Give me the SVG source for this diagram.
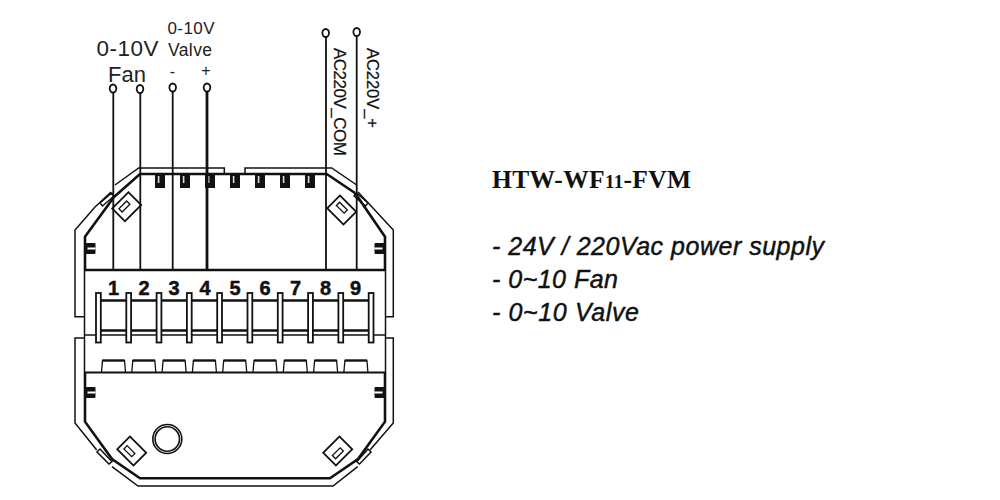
<svg xmlns="http://www.w3.org/2000/svg" xmlns:xlink="http://www.w3.org/1999/xlink" width="1000" height="500" viewBox="0 0 1000 500">
<style>
.l{fill:none;stroke:#111;stroke-width:1.5;stroke-linejoin:miter}
.m{fill:none;stroke:#111;stroke-width:2.2}
.t{fill:none;stroke:#111;stroke-width:2.6}
.w{fill:none;stroke:#111;stroke-width:1.8}
.ws{fill:none;stroke:#111;stroke-width:2.8}
.c{fill:#fff;stroke:#111;stroke-width:1.8}
.s{font-family:"Liberation Sans",Arial,sans-serif;fill:#222}
.n{font-family:"Liberation Sans",Arial,sans-serif;font-weight:700;font-size:20px;fill:#111;stroke:#111;stroke-width:.5;text-anchor:middle}
.i{font-family:"Liberation Sans",Arial,sans-serif;font-style:italic;font-size:25px;fill:#111;stroke:#111;stroke-width:.45}
</style>
<defs>
<g id="notch"><rect x="-5" y="0" width="10" height="13" fill="#111"/><rect x="-2.2" y="1" width="1.6" height="7" fill="#ddd"/></g>
<g id="term"><rect x="-2.3" y="293" width="4.8" height="49.5" fill="#fff" stroke="#111" stroke-width="1.8"/></g>
<g id="tab"><path d="M0 372 L1 360.5 H23 L24 372" fill="none" stroke="#111" stroke-width="1.3"/><path d="M1 360.5 H23" stroke="#111" stroke-width="2.2" fill="none"/></g>
<g id="clip"><rect x="-11.5" y="-9" width="23" height="18" fill="#fff" stroke="#111" stroke-width="1.8"/><rect x="-7" y="-0.5" width="11" height="4.5" fill="#fff" stroke="#111" stroke-width="1.3"/></g>
<g id="lug"><rect x="0" y="0" width="10.5" height="11" rx="1" fill="#111"/><rect x="2.5" y="4.5" width="8" height="2" fill="#fff"/></g>
</defs>
<rect width="1000" height="500" fill="#fff"/>
<g id="housing">
<path class="l" d="M224.3 174V168H138.7L115 185M245 174V168H331.7L356.7 185"/>
<path class="l" d="M100 203L111.7 193L114 196L102.5 206ZM368 203L356.5 193L354 196L365.5 206Z"/>
<path class="l" d="M111 192L95 207L75 230V316.7H84M358 192L372 207L393.3 230V316.7H385"/>
<path class="t" d="M114 197L140 174H326.7L355 193M114 197L85 236.7V270M355 193L385 236.7V270"/>
<path class="l" d="M84 338H75V423L96.7 450M385 338H393.3V423L370 450"/>
<path class="l" d="M100 449L112 461.7L109 464L97 452ZM368 449L356.7 461.7L359.5 464L371 452Z"/>
<path class="l" d="M112 466.7L138 486H333L357.7 466.7"/>
<path class="t" d="M85 372V421.7L112 459L140 478.3H330L358 459L385 421.7V372"/>
</g>
<g id="top-notches">
<use xlink:href="#notch" x="160" y="175"/><use xlink:href="#notch" x="185" y="175"/><use xlink:href="#notch" x="210" y="175"/><use xlink:href="#notch" x="235" y="175"/><use xlink:href="#notch" x="260" y="175"/><use xlink:href="#notch" x="285" y="175"/><use xlink:href="#notch" x="310" y="175"/>
</g>
<g id="lugs">
<use xlink:href="#lug" x="85" y="243"/><use xlink:href="#lug" x="374" y="243" transform="translate(759 0) scale(-1 1)"/>
<use xlink:href="#lug" x="85" y="387"/><use xlink:href="#lug" x="374" y="387" transform="translate(759 0) scale(-1 1)"/>
</g>
<g id="clips">
<use xlink:href="#clip" transform="translate(126.7 206.7) rotate(-45) scale(1 -1)"/>
<use xlink:href="#clip" transform="translate(341.7 210) rotate(45) scale(1 -1)"/>
<use xlink:href="#clip" transform="translate(131.7 451) rotate(45)"/>
<use xlink:href="#clip" transform="translate(337.7 451) rotate(-45)"/>
</g>
<g id="knob"><circle cx="167.3" cy="439" r="14.5" fill="#fff" stroke="#111" stroke-width="1.6"/><circle cx="167.3" cy="439" r="12.2" fill="#fff" stroke="#111" stroke-width="1.6"/></g>
<g id="terminal-block">
<path class="t" d="M85 270H385"/>
<path class="l" d="M84.5 270V372M385.5 270V372"/>
<path class="l" d="M85 335H385"/>
<path class="m" d="M85 372.5H385"/>
<path class="t" d="M100 300.5H370M100 330.5H370"/>
<use xlink:href="#term" x="98.3"/><use xlink:href="#term" x="128.6"/><use xlink:href="#term" x="158.9"/><use xlink:href="#term" x="189.2"/><use xlink:href="#term" x="219.5"/><use xlink:href="#term" x="249.8"/><use xlink:href="#term" x="280.1"/><use xlink:href="#term" x="310.4"/><use xlink:href="#term" x="340.7"/><use xlink:href="#term" x="371"/>
<use xlink:href="#tab" x="101.5"/><use xlink:href="#tab" x="131.8"/><use xlink:href="#tab" x="162.1"/><use xlink:href="#tab" x="192.4"/><use xlink:href="#tab" x="222.7"/><use xlink:href="#tab" x="253"/><use xlink:href="#tab" x="283.3"/><use xlink:href="#tab" x="313.6"/><use xlink:href="#tab" x="343.9"/>
<g class="n"><text x="113.5" y="294.5">1</text><text x="144" y="294.5">2</text><text x="174" y="294.5">3</text><text x="205" y="294.5">4</text><text x="235" y="294.5">5</text><text x="265" y="294.5">6</text><text x="295.5" y="294.5">7</text><text x="325.5" y="294.5">8</text><text x="355.5" y="294.5">9</text></g>
</g>
<g id="connectors">
<path class="w" d="M113.3 92V269M140.3 92V269M172.7 92V269M326 37V269M356.7 37V269"/>
<path class="ws" d="M207 92V269"/>
</g>
<g id="terminals">
<ellipse class="c" cx="113" cy="88.5" rx="3.3" ry="4"/>
<ellipse class="c" cx="140" cy="89" rx="3.3" ry="4"/>
<ellipse class="c" cx="172.7" cy="87.5" rx="3.3" ry="4"/>
<ellipse class="c" cx="207" cy="87.5" rx="3.3" ry="4"/>
<ellipse class="c" cx="325.7" cy="33" rx="3.3" ry="4"/>
<ellipse class="c" cx="356.7" cy="32" rx="3.3" ry="4"/>
</g>
<g id="labels">
<text class="s" x="96.5" y="55.5" font-size="22.5" textLength="62">0-10V</text>
<text class="s" x="108" y="82" font-size="22" textLength="38">Fan</text>
<text class="s" x="167.5" y="34" font-size="17" textLength="47">0-10V</text>
<text class="s" x="168" y="55.5" font-size="17.5" textLength="44">Valve</text>
<text class="s" x="172.5" y="77" font-size="16" text-anchor="middle">-</text>
<text class="s" x="206" y="76" font-size="16" text-anchor="middle">+</text>
<text class="s" font-size="17" textLength="108" style="fill:#111;stroke:#111;stroke-width:.25" transform="translate(333.5 48) rotate(90)">AC220V_COM</text>
<text class="s" font-size="16.5" textLength="80" style="fill:#111;stroke:#111;stroke-width:.25" transform="translate(367 48) rotate(90)">AC220V_+</text>
</g>
<g id="caption">
<text x="492" y="188" font-family="'Liberation Serif',serif" font-weight="700" font-size="25.5" fill="#111" textLength="199">HTW-WF<tspan font-size="19">11</tspan>-FVM</text>
<text class="i" x="492" y="255" textLength="332">- 24V / 220Vac power supply</text>
<text class="i" x="492" y="288" textLength="126">- 0~10 Fan</text>
<text class="i" x="492" y="320.5" textLength="147">- 0~10 Valve</text>
</g>
</svg>
